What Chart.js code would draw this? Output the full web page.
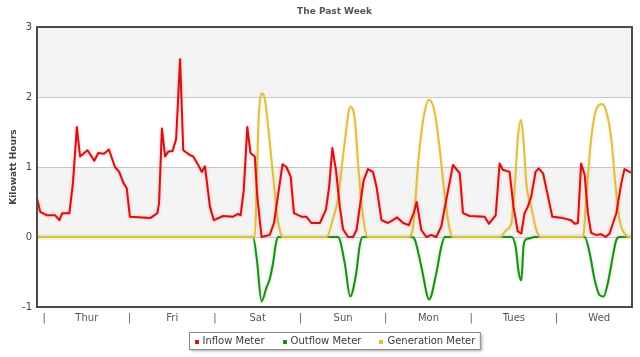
<!DOCTYPE html>
<html>
<head>
<meta charset="utf-8">
<script src="https://cdn.jsdelivr.net/npm/chart.js@4/dist/chart.umd.min.js"></script>
<style>
html,body{margin:0;padding:0;background:#fff;overflow:hidden;}
#wrap{width:640px;height:357px;position:relative;}
</style>
</head>
<body>
<div id="wrap"><canvas id="c" width="640" height="357"></canvas></div>
<script>
// ---- Data (x = hours since Thursday 00:00) ----
const seriesLabels = ['Inflow Meter', 'Outflow Meter', 'Generation Meter'];

const inflowHours = [-1.9,-1.1,0.8,3.1,4.3,5.1,7.1,8.1,9.2,10.1,
  12.2,14.1,15.2,16.8,18.2,19.9,21.1,22.3,23.2,24.1,
  29.8,31.8,32.3,33.1,34.0,34.9,36.1,37.1,38.2,39.1,
  41.0,41.9,43.3,44.3,45.2,46.6,47.7,50.3,53.1,54.5,
  55.2,56.1,57.1,58.0,59.2,59.9,61.1,63.4,64.6,65.8,
  67.0,68.1,69.3,70.2,72.3,73.7,75.1,77.5,79.2,80.1,
  81.0,82.0,83.1,84.0,85.4,86.8,87.8,88.7,89.8,91.0,
  92.4,93.4,94.8,96.6,98.0,99.2,100.9,102.5,103.9,104.7,
  106.0,107.4,108.8,110.2,111.6,113.0,114.9,116.8,117.7,119.6,
  123.8,125.0,126.9,128.0,128.9,130.8,131.9,133.1,134.1,135.0,
  135.9,136.9,138.1,139.0,140.2,141.6,142.8,145.8,148.1,149.1,
  150.0,150.9,151.9,152.8,153.7,155.1,156.5,157.8,158.9,160.8,
  162.2,163.1,164.5,165.1];
const inflowValues = [0.53,0.36,0.31,0.31,0.24,0.34,0.34,0.77,1.57,1.15,
  1.24,1.09,1.20,1.19,1.25,1.00,0.93,0.77,0.70,0.29,
  0.27,0.34,0.48,1.55,1.15,1.22,1.23,1.40,2.54,1.24,
  1.17,1.15,1.03,0.93,1.01,0.43,0.24,0.30,0.29,0.33,
  0.31,0.67,1.57,1.20,1.15,0.58,0.00,0.03,0.20,0.62,
  1.04,1.00,0.86,0.34,0.29,0.29,0.20,0.20,0.39,0.72,
  1.27,0.96,0.43,0.11,0.00,0.00,0.10,0.43,0.81,0.97,
  0.93,0.72,0.24,0.20,0.24,0.28,0.20,0.17,0.35,0.50,
  0.10,0.00,0.03,0.00,0.15,0.53,1.03,0.91,0.34,0.30,
  0.29,0.19,0.31,1.05,0.96,0.93,0.43,0.08,0.05,0.34,
  0.43,0.58,0.93,0.98,0.91,0.58,0.29,0.27,0.24,0.19,
  0.20,1.05,0.89,0.34,0.06,0.03,0.04,0.00,0.05,0.34,
  0.77,0.97,0.93,0.92];

const outflowHours = [-2,58.7,59.8,61.1,62.5,63.4,64.4,65.1,65.8,
  82.6,84.5,86.0,87.6,88.7,89.5,
  103.3,104.2,106.0,108.2,110.2,111.6,112.6,
  131.4,132.5,133.4,134.1,134.7,135.3,136.4,137.8,
  151.9,153.3,154.7,156.1,157.2,158.4,159.8,160.8,161.7,165.2];
const outflowValues = [0,0,-0.33,-0.92,-0.72,-0.6,-0.35,-0.1,0,
  0,-0.38,-0.85,-0.55,-0.12,0,
  0,-0.04,-0.42,-0.89,-0.52,-0.14,0,
  0,-0.14,-0.52,-0.62,-0.14,-0.04,-0.02,0,
  0,-0.23,-0.61,-0.83,-0.85,-0.66,-0.28,-0.04,0,0];

const generationHours = [-2,59.2,59.8,60.3,61.3,62.1,62.9,63.7,64.6,65.5,
  66.5,67.1,79.4,81.1,82.6,84.2,86.1,87.3,88.3,89.6,
  91.0,102.3,103.7,105.1,106.5,108.2,109.8,111.2,112.6,114.0,
  114.9,128.0,129.9,131.3,132.5,133.1,134.0,134.7,135.5,136.9,
  138.3,139.7,151.4,152.5,153.7,155.3,156.8,158.1,159.4,160.6,
  161.7,163.1,164.5,165.2];
const generationValues = [0,0,0.9,1.7,2.05,1.95,1.6,1.2,0.75,0.3,
  0.05,0,0,0.25,0.55,1.24,1.86,1.68,1.0,0.3,
  0,0,0.15,1.05,1.67,1.96,1.77,1.24,0.58,0.1,
  0,0,0.1,0.2,0.91,1.4,1.67,1.39,0.77,0.43,
  0.1,0,0,0.67,1.39,1.84,1.90,1.77,1.39,0.72,
  0.24,0.05,0,0];

const xTickHours = [0,12,24,36,48,60,72,84,96,108,120,132,144,156];
const xTickLabels = ['|','Thur','|','Fri','|','Sat','|','Sun','|','Mon','|','Tues','|','Wed'];
const yTickValues = [-1,0,1,2,3];
const shadedBands = [[2,3],[0,1]];
const chartTitle = 'The Past Week';
const yAxisTitle = 'Kilowatt Hours';

const pts = (xs, ys) => xs.map((x, i) => ({x, y: ys[i]}));

const FONT = "'DejaVu Sans', Verdana, sans-serif";

const colors = {
  inflow: '#d01414', inflowGlow: 'rgba(255,80,80,0.5)',
  outflow: '#1e8a1e', outflowGlow: 'rgba(110,210,80,0.55)',
  gen: '#e0bd48', genGlow: 'rgba(245,215,110,0.6)'
};

const bandsPlugin = {
  id: 'bands',
  beforeDraw(chart) {
    const {ctx, chartArea: a, scales: {y}} = chart;
    ctx.save();
    ctx.fillStyle = '#fff';
    ctx.fillRect(0, 0, chart.width, chart.height);
    ctx.fillStyle = '#f4f4f4';
    shadedBands.forEach(([lo, hi]) => {
      const t = y.getPixelForValue(hi), b = y.getPixelForValue(lo);
      ctx.fillRect(a.left, t, a.right - a.left, b - t);
    });
    ctx.restore();
  }
};

const glowPlugin = {
  id: 'glow',
  beforeDatasetDraw(chart, args) {
    const ds = chart.data.datasets[args.index];
    chart.ctx.save();
    chart.ctx.shadowColor = ds.glowColor;
    chart.ctx.shadowBlur = 3;
  },
  afterDatasetDraw(chart) {
    chart.ctx.restore();
  }
};

const framePlugin = {
  id: 'frame',
  afterDatasetsDraw(chart) {
    const {ctx, chartArea: a} = chart;
    ctx.save();
    ctx.strokeStyle = '#4a4a4a';
    ctx.lineWidth = 2;
    ctx.strokeRect(a.left, a.top, a.right - a.left, a.bottom - a.top);
    ctx.restore();
  }
};

const titlePlugin = {
  id: 'ctitle',
  afterDraw(chart) {
    const {ctx, chartArea: a} = chart;
    ctx.save();
    ctx.font = 'bold 9px ' + FONT;
    ctx.fillStyle = '#555';
    ctx.textAlign = 'center';
    ctx.textBaseline = 'middle';
    ctx.fillText(chartTitle, (a.left + a.right) / 2, 12);
    ctx.restore();
  }
};

const legendPlugin = {
  id: 'boxLegend',
  afterDraw(chart) {
    const {ctx, chartArea: a} = chart;
    ctx.save();
    ctx.font = '10px ' + FONT;
    const order = [0, 1, 2];
    const items = order.map(i => {
      const ds = chart.data.datasets[i];
      return {text: ds.label, color: ds.borderColor, w: ctx.measureText(ds.label).width};
    });
    const pad = 5, mark = 4, gap = 4, between = 18;
    let total = pad * 2;
    items.forEach((it, i) => { total += mark + gap + it.w + (i ? between : 0); });
    const cx = (a.left + a.right) / 2;
    const left = Math.round(cx - total / 2) + 0.5;
    const top = 332.5, h = 17;
    ctx.shadowColor = 'rgba(0,0,0,0.35)';
    ctx.shadowBlur = 3;
    ctx.shadowOffsetX = 1.5;
    ctx.shadowOffsetY = 1.5;
    ctx.fillStyle = '#fff';
    ctx.fillRect(left, top, total, h);
    ctx.shadowColor = 'transparent';
    ctx.strokeStyle = '#8a8a8a';
    ctx.lineWidth = 1;
    ctx.strokeRect(left, top, total, h);
    let x = left + pad;
    const midY = top + h / 2;
    ctx.textBaseline = 'middle';
    ctx.textAlign = 'left';
    items.forEach((it, i) => {
      if (i) x += between;
      ctx.fillStyle = it.color;
      ctx.fillRect(Math.round(x), Math.round(midY - 1), mark, mark);
      x += mark + gap;
      ctx.fillStyle = '#3a3a3a';
      ctx.fillText(it.text, x, midY);
      x += it.w;
    });
    ctx.restore();
  }
};

new Chart(document.getElementById('c'), {
  type: 'line',
  data: {
    datasets: [
      {label: seriesLabels[0], data: pts(inflowHours, inflowValues), borderColor: colors.inflow,
       backgroundColor: colors.inflow, glowColor: colors.inflowGlow, borderWidth: 2, tension: 0, order: 0},
      {label: seriesLabels[1], data: pts(outflowHours, outflowValues), borderColor: colors.outflow,
       backgroundColor: colors.outflow, glowColor: colors.outflowGlow, borderWidth: 2,
       cubicInterpolationMode: 'monotone', order: 2},
      {label: seriesLabels[2], data: pts(generationHours, generationValues), borderColor: colors.gen,
       backgroundColor: colors.gen, glowColor: colors.genGlow, borderWidth: 2,
       cubicInterpolationMode: 'monotone', order: 1}
    ]
  },
  options: {
    responsive: false,
    animation: false,
    devicePixelRatio: 1,
    layout: {padding: {top: 27, right: 8, bottom: 32, left: 0}},
    elements: {point: {radius: 0}, line: {borderJoinStyle: 'round', borderCapStyle: 'round'}},
    plugins: {legend: {display: false}, title: {display: false}, tooltip: {enabled: false}},
    scales: {
      x: {
        type: 'linear', min: -2, max: 165.2,
        grid: {display: false, drawTicks: false},
        border: {display: false},
        afterBuildTicks: s => { s.ticks = xTickHours.map(v => ({value: v})); },
        afterFit: s => { s.height = 18; },
        ticks: {
          autoSkip: false, maxRotation: 0, padding: 5,
          color: '#555', font: {family: FONT, size: 10},
          callback: v => { const i = xTickHours.indexOf(v); return i >= 0 ? xTickLabels[i] : ''; }
        }
      },
      y: {
        min: -1, max: 3,
        afterBuildTicks: s => { s.ticks = yTickValues.map(v => ({value: v})); },
        afterFit: s => { s.width = 37; },
        grid: {color: '#c8c8c8', lineWidth: 1, drawTicks: false},
        border: {display: false},
        ticks: {padding: 5, color: '#444', font: {family: FONT, size: 10}},
        title: {display: true, text: yAxisTitle, color: '#444',
                font: {family: FONT, size: 9, weight: 'bold'}, padding: {top: 8, bottom: 0}}
      }
    }
  },
  plugins: [bandsPlugin, glowPlugin, framePlugin, titlePlugin, legendPlugin]
});
</script>
</body>
</html>
